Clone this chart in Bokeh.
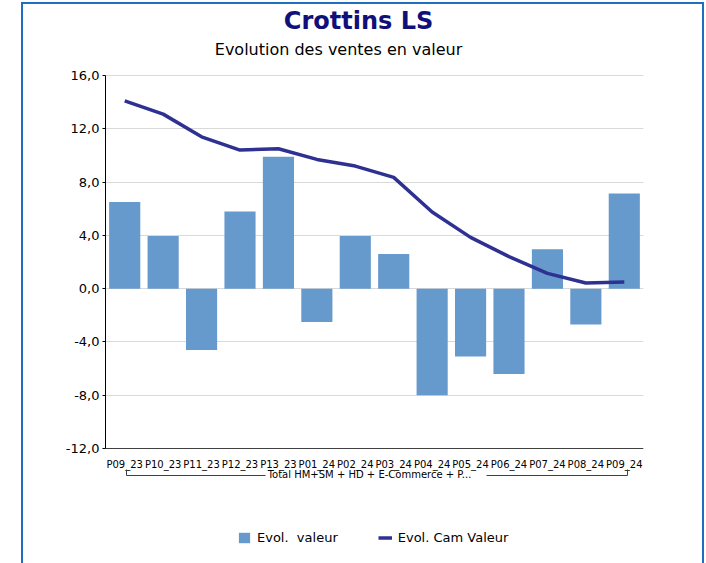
from bokeh.plotting import figure
from bokeh.models import (FactorRange, Range1d, FixedTicker, Legend, LegendItem,
                          Label, Arrow)
from bokeh.embed import file_html
from bokeh.resources import INLINE

# ---- data ----
periods = ["P09_23", "P10_23", "P11_23", "P12_23", "P13_23", "P01_24", "P02_24",
           "P03_24", "P04_24", "P05_24", "P06_24", "P07_24", "P08_24", "P09_24"]
evol_valeur = [6.5, 3.95, -4.6, 5.8, 9.9, -2.5, 3.95, 2.6, -8.0, -5.1, -6.4, 2.95, -2.7, 7.15]
evol_cam_valeur = [14.1, 13.1, 11.4, 10.4, 10.5, 9.7, 9.2, 8.35, 5.75, 3.85, 2.4, 1.15, 0.42, 0.5]
y_ticks = [-12, -8, -4, 0, 4, 8, 12, 16]
y_min, y_max = -12, 16
title_text = "Crottins LS"
subtitle_text = "Evolution des ventes en valeur"
group_text = "Total HM+SM + HD + E-Commerce + P..."
legend_labels = ["Evol.  valeur", "Evol. Cam Valeur"]

FONT = "DejaVu Sans"
BAR_COLOR = "#6699CC"
LINE_COLOR = "#2E3192"

# plot area 75..448 px tall for y_min..y_max; the frame is extended to the whole
# canvas height so titles, legend and group label can sit inside it
H, TOP, BOTTOM = 563, 75, 448
ppu = (BOTTOM - TOP) / (y_max - y_min)
y_range = Range1d(y_min - (H - BOTTOM) / ppu, y_max + TOP / ppu)

p = figure(width=706, height=H, output_backend="svg", toolbar_location=None,
           x_range=FactorRange(factors=periods, range_padding=0),
           y_range=y_range, title=None,
           min_border_left=105, min_border_right=63, min_border_top=0, min_border_bottom=0)
p.outline_line_color = None
p.background_fill_color = "white"
p.border_fill_color = "white"

bars = p.vbar(x=periods, top=evol_valeur, bottom=0, width=0.81,
              fill_color=BAR_COLOR, line_color=None)
line = p.line(x=periods, y=evol_cam_valeur, line_color=LINE_COLOR, line_width=3.5)

# y axis (line limited to the value span)
p.yaxis.ticker = FixedTicker(ticks=y_ticks)
p.yaxis.bounds = (y_min, y_max)
p.yaxis.major_label_overrides = {t: f"{t:.1f}".replace(".", ",") for t in y_ticks}
p.yaxis.major_label_text_font = FONT
p.yaxis.major_label_text_font_size = "13px"
p.yaxis.major_label_text_color = "#000000"
p.yaxis.axis_line_color = "#000000"
p.yaxis.major_tick_line_color = "#000000"
p.yaxis.major_tick_out = 3
p.yaxis.major_tick_in = 0
p.yaxis.minor_tick_line_color = None
p.yaxis.major_label_standoff = 3

# x axis drawn at y_min
p.xaxis.fixed_location = y_min
p.xaxis.major_label_text_font = FONT
p.xaxis.major_label_text_font_size = "10px"
p.xaxis.major_label_text_color = "#000000"
p.xaxis.axis_line_color = "#404040"
p.xaxis.major_tick_line_color = None
p.xaxis.major_tick_out = 0
p.xaxis.major_tick_in = 0
p.xaxis.major_label_standoff = 10

p.xgrid.grid_line_color = None
p.ygrid.grid_line_color = "#D9D9D9"
p.ygrid.grid_line_width = 1

# titles (screen units measured from the frame's bottom-left corner)
p.add_layout(Label(x=253, y=543, x_units="screen", y_units="screen", text=title_text,
                   text_font=FONT, text_font_size="24px", text_font_style="bold",
                   text_color="#10107A", text_align="center", text_baseline="middle"))
p.add_layout(Label(x=233, y=514, x_units="screen", y_units="screen", text=subtitle_text,
                   text_font=FONT, text_font_size="16px",
                   text_color="#000000", text_align="center", text_baseline="middle"))

# group label and bracket
p.add_layout(Label(x=264, y=89, x_units="screen", y_units="screen", text=group_text,
                   text_font=FONT, text_font_size="10px",
                   text_color="#000000", text_align="center", text_baseline="middle"))
for (x0, y0, x1, y1) in [(21, 94, 21, 88), (21, 88, 160, 88),
                         (381, 88, 522, 88), (522, 88, 522, 94)]:
    p.add_layout(Arrow(x_start=x0, y_start=y0, x_end=x1, y_end=y1,
                       start_units="screen", end_units="screen",
                       start=None, end=None, line_color="#404040", line_width=1))

# legend
legend = Legend(items=[LegendItem(label=legend_labels[0], renderers=[bars]),
                       LegendItem(label=legend_labels[1], renderers=[line])],
                location=(132, 18), orientation="horizontal",
                glyph_width=14, glyph_height=13, label_standoff=6, spacing=40,
                padding=0, margin=0, border_line_alpha=0, background_fill_alpha=0,
                label_text_font=FONT, label_text_font_size="13px",
                label_text_color="#000000")
p.add_layout(legend, "center")

# outer blue frame of the chart object
p.stylesheets = [":host::after { content: ''; position: absolute; left: 21px; top: 2px; "
                 "width: 683px; height: 561px; box-sizing: border-box; "
                 "border: 2.5px solid #1F6FC0; border-bottom: none; pointer-events: none; }"]

open("out.html", "w").write(file_html(p, INLINE))
